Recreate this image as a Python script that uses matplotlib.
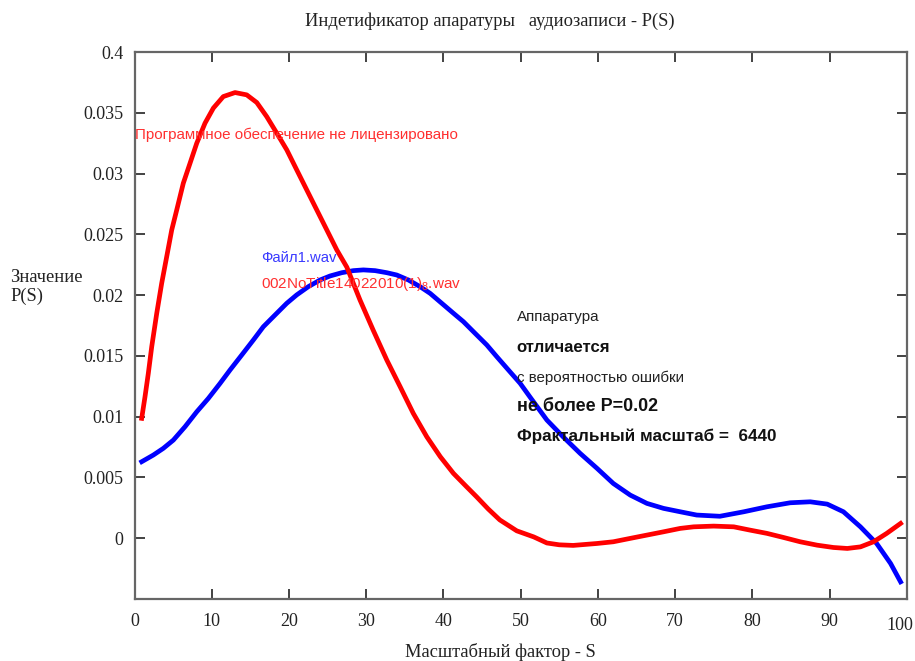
import numpy as np
import matplotlib
matplotlib.use("Agg")
import matplotlib.pyplot as plt
import matplotlib.transforms as mtransforms

plt.rcParams['mathtext.fontset'] = 'custom'
plt.rcParams['mathtext.rm'] = 'Liberation Sans'

# red curve (002NoTitle14022010(1)_8.wav)
red_s = [0.93, 1.36, 1.79, 2.23, 2.88, 3.52, 4.17, 4.82, 5.47, 6.32, 7.19, 8.06,
         9.13, 10.21, 11.5, 13.02, 14.53, 15.83, 17.12, 18.42, 19.72, 21.01, 22.3,
         23.6, 24.9, 26.2, 27.5, 29.2, 30.9, 32.67, 34.4, 36.1, 37.85, 39.6, 41.3,
         43.0, 44.3, 45.8, 47.3, 49.5, 51.7, 53.4, 55.0, 56.8, 59.9, 62.0,
         64.2, 66.35, 68.5, 70.66, 72.4, 75.0, 77.6, 79.7, 81.9, 84.0, 86.2, 88.4,
         90.5, 92.3, 94.0, 95.7, 97.4, 99.2]
red_p = [0.00986, 0.01164, 0.01357, 0.01576, 0.01851, 0.02098, 0.02317, 0.02537,
         0.02702, 0.02922, 0.03086, 0.03251, 0.03416, 0.0354, 0.03635, 0.03668,
         0.03649, 0.03586, 0.0347, 0.03334, 0.03196, 0.03031, 0.02867, 0.02702,
         0.02537, 0.02372, 0.02230, 0.0196, 0.01713, 0.01466, 0.01246, 0.01027,
         0.00834, 0.0067, 0.00533, 0.00423, 0.0034, 0.0024, 0.0015, 0.0006,
         0.0001, -0.0004, -0.00055, -0.0006, -0.00044, -0.0003, -0.00002, 0.00025,
         0.00052, 0.0008, 0.00093, 0.00099, 0.00093, 0.00066, 0.00039, 0.00006,
         -0.0003, -0.00058, -0.00077, -0.00085, -0.00072, -0.0003, 0.00039, 0.00121]

# blue curve (Файл1.wav)
blue_s = [0.93, 2.44, 3.73, 5.03, 6.54, 8.06, 9.56, 11.08, 12.37, 13.88, 15.39,
          16.68, 18.2, 19.71, 21.0, 22.51, 24.03, 25.32, 26.84, 28.34, 29.64, 31.15,
          32.67, 33.96, 35.47, 36.98, 38.28, 39.79, 41.3, 42.59, 44.1, 45.62, 46.92,
          48.42, 49.94, 51.23, 53.4, 55.5, 57.7, 59.9, 62.0, 64.2, 66.35, 68.5,
          70.66, 72.8, 75.8, 78.9, 81.9, 84.9, 87.5, 89.7, 91.8, 94.0, 96.1, 97.9, 99.2]
blue_p = [0.00629, 0.00684, 0.00739, 0.00807, 0.00917, 0.0104, 0.0115, 0.01274,
          0.01384, 0.01507, 0.01631, 0.0174, 0.01837, 0.01933, 0.02002, 0.0207,
          0.02125, 0.02158, 0.02185, 0.02202, 0.02208, 0.02202, 0.02185, 0.02166,
          0.02125, 0.0207, 0.02015, 0.01933, 0.01851, 0.01782, 0.01686, 0.0159,
          0.01493, 0.01384, 0.01274, 0.0116, 0.00972, 0.00834, 0.00698, 0.00574,
          0.0045, 0.00354, 0.00286, 0.00245, 0.00217, 0.0019, 0.0018, 0.00217,
          0.00258, 0.00291, 0.00299, 0.0028, 0.00217, 0.00093, -0.00044, -0.00208,
          -0.0036]

x_ticks = [0, 10, 20, 30, 40, 50, 60, 70, 80, 90, 100]
y_ticks = [0, 0.005, 0.01, 0.015, 0.02, 0.025, 0.03, 0.035, 0.04]
y_labels = ["0", "0.005", "0.01", "0.015", "0.02", "0.025", "0.03", "0.035", "0.4"]

serif = "Liberation Serif"
sans = "Liberation Sans"

fig = plt.figure(figsize=(9.15, 6.61), dpi=100)
ax = fig.add_axes([0.147, 0.094, 0.844, 0.827])

ax.plot(blue_s, blue_p, color="#0000ff", lw=3.4, solid_joinstyle="round")
ax.plot(red_s, red_p, color="#ff0000", lw=3.4, solid_joinstyle="round")

ax.set_xlim(0, 100)
ax.set_ylim(-0.005, 0.04)
ax.set_xticks(x_ticks)
ax.set_yticks(y_ticks)
ax.set_yticklabels(y_labels)
ax.tick_params(direction="in", length=7, width=1.2, top=True, right=True,
               colors="#222222", labelsize=13)
ax.tick_params(axis="x", pad=10)
ax.tick_params(axis="y", pad=8)
for lab in ax.get_xticklabels() + ax.get_yticklabels():
    lab.set_fontfamily(serif)
for sp in ax.spines.values():
    sp.set_color("#666666")
    sp.set_linewidth(1.6)

fig.text(0.535, 0.968, "Индетификатор апаратуры   аудиозаписи - P(S)",
         family=serif, fontsize=13.3, color="#222222", ha="center", va="center")
fig.text(0.547, 0.013, "Масштабный фактор - S", family=serif, fontsize=13.3,
         color="#222222", ha="center", va="center")
fig.text(0.011, 0.566, "Значение\nP(S)", family=serif, fontsize=13.3,
         color="#222222", ha="left", va="center", linespacing=1.15)

ax.text(0.1, 0.0332, "Программное обеспечение не лицензировано", family=sans,
        fontsize=10.9, color="#ff3030", va="center")
ax.text(16.4, 0.0231, "Файл1.wav", family=sans, fontsize=10.7,
        color="#3a3aff", va="center")
ax.text(16.4, 0.0209, r"002NoTitle14022010(1)$_{\mathrm{8}}$.wav", family=sans,
        fontsize=11, color="#ff3030", va="center")

ax.text(49.5, 0.0182, "Аппаратура", family=sans, fontsize=10.9,
        color="#222222", va="center")
ax.text(49.5, 0.0157, "отличается", family=sans, fontsize=12.1,
        fontweight="bold", color="#111111", va="center")
ax.text(49.5, 0.0132, "с вероятностью ошибки", family=sans, fontsize=10.9,
        color="#222222", va="center")
ax.text(49.5, 0.0108, "не более P=0.02", family=sans, fontsize=12.9,
        fontweight="bold", color="#111111", va="center")
ax.text(49.5, 0.0084, "Фрактальный масштаб =  6440", family=sans, fontsize=12.3,
        fontweight="bold", color="#111111", va="center")

# last x label sits a bit left and lower in the original
fig.canvas.draw()
last = ax.get_xticklabels()[-1]
last.set_transform(last.get_transform() +
                   mtransforms.ScaledTranslation(-0.07, -0.04, fig.dpi_scale_trans))

fig.savefig("out.png", dpi=100, facecolor="white")
